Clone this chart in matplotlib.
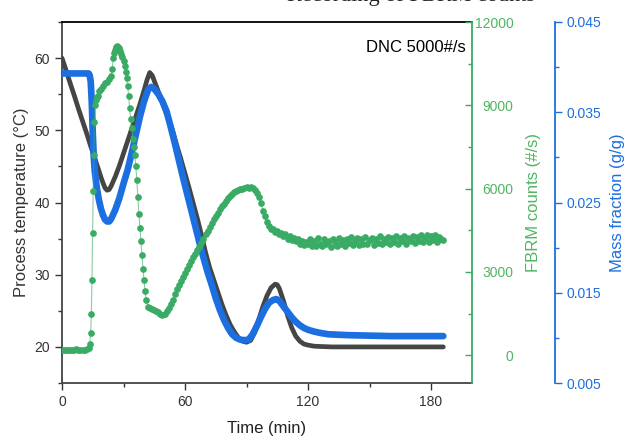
import matplotlib.pyplot as plt
from matplotlib.ticker import MultipleLocator

plt.rcParams['font.family'] = ['Liberation Sans', 'DejaVu Sans']

# Process temperature (black)
t_temp = [0, 2, 4, 6, 8, 10, 12, 14, 16, 18, 19, 20, 21, 22, 23, 24, 26, 28, 30, 32,
          34, 36, 38, 40, 41.5, 42.8, 44, 46, 48, 50, 52, 54, 56, 58, 60, 62, 64, 66,
          68, 70, 72, 74, 76, 78, 80, 82, 84, 86, 88, 90, 92, 94, 96, 98, 100, 102,
          104, 105, 106, 108, 110, 112, 114, 116, 118, 120, 123, 127, 132, 150, 170, 186]
temp = [60.0, 58.3, 56.5, 54.8, 53.0, 51.3, 49.6, 47.8, 46.1, 44.4, 43.5, 42.7, 42.0,
        41.7, 41.8, 42.3, 43.6, 45.1, 46.8, 48.5, 50.2, 51.9, 53.6, 55.5, 57.0, 58.0,
        57.6, 56.1, 54.6, 53.0, 51.5, 49.9, 47.9, 46.0, 44.0, 42.0, 39.9, 37.8, 35.5,
        33.1, 31.0, 29.3, 27.6, 25.9, 24.4, 23.1, 22.1, 21.3, 20.8, 20.65, 20.9, 22.0,
        23.8, 25.6, 27.1, 28.2, 28.7, 28.6, 28.1, 26.4, 24.4, 22.7, 21.5, 20.8, 20.4,
        20.25, 20.1, 20.05, 20.0, 20.0, 20.0, 20.0]

# Mass fraction (blue)
t_mass = [0, 2, 4, 6, 8, 10, 12, 13, 13.5, 14, 14.5, 15, 15.5, 16, 17, 18, 19, 20, 21,
          22, 23, 24, 26, 28, 30, 32, 34, 36, 38, 40, 42, 43.5, 45, 47, 49, 51, 53, 55,
          57, 59, 61, 63, 65, 67, 69, 71, 73, 75, 77, 79, 81, 83, 85, 87, 89, 91, 93,
          95, 97, 99, 101, 103, 104.5, 106, 108, 110, 112, 114, 116, 118, 120, 123,
          126, 130, 135, 140, 150, 160, 170, 180, 186]
mass = [0.0393, 0.0393, 0.0393, 0.0393, 0.0393, 0.0393, 0.0393, 0.0393, 0.0391, 0.0384,
        0.0362, 0.0328, 0.0300, 0.0284, 0.0266, 0.0253, 0.0243, 0.0236, 0.0231, 0.0229,
        0.0229, 0.0232, 0.0242, 0.0255, 0.0271, 0.0286, 0.0305, 0.0325, 0.0345, 0.0362,
        0.0375, 0.0378, 0.0376, 0.0370, 0.0362, 0.0351, 0.0334, 0.0316, 0.0297, 0.0278,
        0.0260, 0.0242, 0.0224, 0.0206, 0.0189, 0.0173, 0.0159, 0.0144, 0.0131, 0.0120,
        0.0111, 0.0104, 0.0100, 0.0098, 0.00975, 0.0098, 0.0104, 0.0113, 0.0123, 0.0132,
        0.0139, 0.0142, 0.0143, 0.0141, 0.0135, 0.0129, 0.0123, 0.0118, 0.0114, 0.0111,
        0.0109, 0.0107, 0.01055, 0.0104, 0.01035, 0.0103, 0.01025, 0.0102, 0.0102,
        0.0102, 0.0102]

# FBRM counts (green)
t_fbrm = [0, 1, 2, 3, 4, 5, 6, 7, 8, 9, 10, 11, 12, 13, 13.5, 14, 14.3, 14.6, 14.9,
          15.2, 15.5, 15.8, 16.2, 16.6, 17, 17.5, 18, 19, 20, 21, 22, 23, 24, 24.5, 25,
          25.5, 26, 26.5, 27, 27.5, 28, 28.5, 29, 29.5, 30, 30.5, 31, 31.5, 32, 32.5,
          33, 33.5, 34, 34.5, 35, 35.5, 36, 36.5, 37, 37.5, 38, 38.5, 39, 39.5, 40,
          40.5, 41, 42, 43, 44, 45, 46, 47, 48, 49, 50, 51, 52, 53, 54, 55, 56, 57, 58,
          59, 60, 61, 62, 63, 64, 65, 66, 67, 68, 69, 70, 71, 72, 73, 74, 75, 76, 77,
          78, 79, 80, 81, 82, 83, 84, 85, 86, 87, 88, 89, 90, 91, 92, 93, 94, 95, 96,
          97, 98, 99, 100, 101, 102, 103, 104, 105, 106, 107, 108, 109, 110, 111, 112,
          113, 114, 115, 116, 117, 118, 119, 120, 121, 122, 123, 124, 125, 126, 127,
          128, 129, 130, 131, 132, 133, 134, 135, 136, 137, 138, 139, 140, 141, 142,
          143, 144, 145, 146, 147, 148, 149, 150, 151, 152, 153, 154, 155, 156, 157,
          158, 159, 160, 161, 162, 163, 164, 165, 166, 167, 168, 169, 170, 171, 172,
          173, 174, 175, 176, 177, 178, 179, 180, 181, 182, 183, 184, 185, 186]
fbrm = [190, 200, 195, 205, 200, 190, 200, 210, 195, 200, 205, 200, 210, 260, 420, 800,
        1500, 2700, 4400, 5900, 7200, 8400, 9000, 9200, 9300, 9350, 9500, 9600, 9700,
        9800, 9850, 9950, 10050, 10300, 10700, 10900, 11000, 11100, 11150, 11100, 11050,
        10950, 10850, 10750, 10600, 10400, 10200, 10000, 9700, 9350, 8900, 8500, 8200,
        7800, 7500, 7200, 6800, 6300, 5700, 5100, 4600, 4100, 3600, 3100, 2700, 2300,
        2000, 1750, 1700, 1650, 1620, 1600, 1560, 1480, 1450, 1500, 1600, 1700, 1850,
        2000, 2200, 2380, 2520, 2680, 2830, 2950, 3100, 3250, 3400, 3550, 3650, 3780,
        3900, 4030, 4200, 4350, 4480, 4620, 4750, 4900, 5020, 5130, 5250, 5360, 5450,
        5560, 5650, 5750, 5820, 5890, 5930, 5960, 5980, 5990, 6020, 6050, 6030, 6060,
        6010, 5950, 5850, 5700, 5500, 5200, 5000, 4800, 4650, 4550, 4560, 4440, 4480,
        4360, 4420, 4300, 4350, 4200, 4310, 4150, 4240, 4100, 4180, 4020, 4110, 3980,
        4070, 4000, 4180, 3950, 4110, 3920, 4230, 4010, 3940, 4170, 4000, 4130, 3910,
        4200, 4060, 3950, 4240, 3990, 4150, 3930, 4190, 4040, 4260, 3970, 4120, 4210,
        3960, 4170, 4010, 4270, 3990, 4140, 4230, 3980, 4180, 4050, 4290, 4000, 4200,
        4060, 4250, 3990, 4210, 4090, 4300, 4020, 4230, 4110, 4280, 4010, 4240, 4100,
        4310, 4040, 4250, 4130, 4330, 4060, 4220, 4340, 4080, 4290, 4150, 4320, 4070,
        4260, 4180, 4140]

c_black = '#454545'
c_green = '#3aab65'
c_green_lbl = '#4fb560'
c_blue = '#1c6fe0'

fig = plt.figure(figsize=(6.27, 4.4), dpi=100)
ax = fig.add_axes([0.0989, 0.1295, 0.6539, 0.8205])
ax_g = ax.twinx()
ax_b = ax.twinx()

# temperature
ax.plot(t_temp, temp, color=c_black, lw=3.4, solid_capstyle='round')
ax.set_xlim(0, 200)
ax.set_ylim(15, 65)
ax.set_xticks([0, 60, 120, 180])
ax.xaxis.set_minor_locator(MultipleLocator(30))
ax.set_yticks([20, 30, 40, 50, 60])
ax.yaxis.set_minor_locator(MultipleLocator(5))
ax.tick_params(axis='both', which='major', direction='out', length=5, width=1,
               colors='#333333', labelsize=10)
ax.tick_params(axis='both', which='minor', direction='out', length=3, width=1,
               colors='#333333')
ax.set_xlabel('Time (min)', fontsize=12, color='#222222', labelpad=9)
ax.set_ylabel('Process temperature (\u00b0C)', fontsize=12, color='#333333', labelpad=4)
for s in ['left', 'bottom']:
    ax.spines[s].set_color('#444444')
    ax.spines[s].set_linewidth(1.3)
ax.spines['top'].set_color('black')
ax.spines['top'].set_linewidth(1.3)
ax.spines['right'].set_visible(False)
ax.text(0.985, 0.93, 'DNC 5000#/s', transform=ax.transAxes, ha='right',
        va='center', fontsize=12, color='black')

# mass fraction
ax_b.plot(t_mass, mass, color=c_blue, lw=4.8, solid_capstyle='round')
ax_b.set_ylim(0.005, 0.045)
ax_b.set_yticks([0.005, 0.015, 0.025, 0.035, 0.045])
ax_b.yaxis.set_minor_locator(MultipleLocator(0.005))
ax_b.spines['right'].set_position(('axes', 1.2024))
ax_b.spines['right'].set_color(c_blue)
ax_b.spines['right'].set_linewidth(1.3)
for s in ['left', 'top', 'bottom']:
    ax_b.spines[s].set_visible(False)
ax_b.tick_params(axis='y', which='major', direction='out', length=5, width=1,
                 colors=c_blue, labelsize=10)
ax_b.tick_params(axis='y', which='minor', direction='out', length=3, width=1,
                 colors=c_blue)
ax_b.set_ylabel('Mass fraction (g/g)', fontsize=12, color=c_blue, labelpad=6)

# FBRM counts
ax_g.plot(t_fbrm, fbrm, color=c_green, lw=0.8, alpha=0.6)
ax_g.plot(t_fbrm, fbrm, ls='none', marker='o', ms=3.8, color=c_green, mec=c_green)
ax_g.set_ylim(-1000, 12000)
ax_g.set_yticks([0, 3000, 6000, 9000, 12000])
ax_g.yaxis.set_minor_locator(MultipleLocator(1500))
ax_g.spines['right'].set_color(c_green)
ax_g.spines['right'].set_linewidth(1.3)
for s in ['left', 'top', 'bottom']:
    ax_g.spines[s].set_visible(False)
ax_g.tick_params(axis='y', which='major', direction='in', length=5, width=1,
                 colors=c_green, labelcolor=c_green_lbl, labelsize=10, pad=30)
ax_g.tick_params(axis='y', which='minor', direction='in', length=3, width=1,
                 colors=c_green)
for lbl in ax_g.get_yticklabels():
    lbl.set_horizontalalignment('right')
ax_g.set_ylabel('FBRM counts (#/s)', fontsize=12, color=c_green_lbl, labelpad=9)

ax.set_zorder(1)
ax_b.set_zorder(2)
ax_g.set_zorder(3)
ax.patch.set_visible(False)

# heading cut off at the very top of the image, as in the reference
fig.text(0.655, 1 - 1.5 / 440, 'Recording of FBRM counts', ha='center',
         va='baseline', fontsize=16, family='Liberation Serif', color='#222222')

plt.savefig('out.png', dpi=100)
